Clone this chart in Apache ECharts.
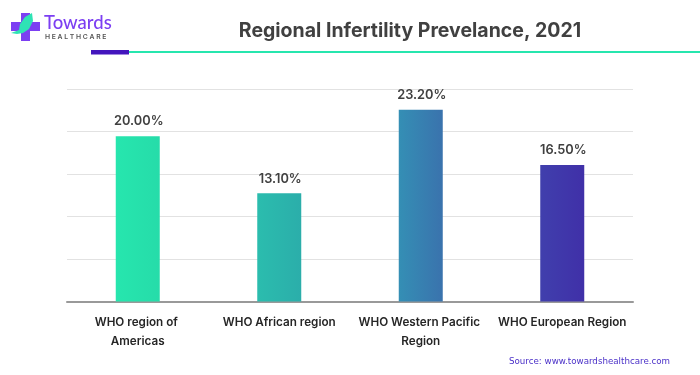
<!DOCTYPE html>
<html>
<head>
<meta charset="utf-8">
<style>
  html, body { margin: 0; background: #fff; }
  #chart { width: 700px; height: 375px; }
</style>
<script src="https://cdn.jsdelivr.net/npm/echarts@6/dist/echarts.min.js"></script>
</head>
<body>
<div id="chart"></div>
<script>
const categories = ["WHO region of Americas", "WHO African region", "WHO Western Pacific Region", "WHO European Region"];
const values = [20.0, 13.1, 23.2, 16.5];

const chart = echarts.init(document.getElementById("chart"), null, { renderer: "canvas" });

// one gradient running across all four bars
const barGradient = new echarts.graphic.LinearGradient(116, 0, 584, 0, [
  { offset: 0, color: "#26e6ae" },
  { offset: 0.1, color: "#26dba9" },
  { offset: 0.3, color: "#2bbdae" },
  { offset: 0.4, color: "#2badaa" },
  { offset: 0.6, color: "#3490b5" },
  { offset: 0.7, color: "#3a72ad" },
  { offset: 0.9, color: "#4040ad" },
  { offset: 1, color: "#4030a8" },
], true);

chart.setOption({
  animation: false,
  backgroundColor: "#fff",
  title: {
    text: "Regional Infertility Prevelance, 2021",
    left: 405,
    top: 16,
    textAlign: "center",
    textStyle: { fontFamily: "Inter", fontSize: 19.5, fontWeight: 700, color: "#404040" },
  },
  grid: { left: 67, right: 67, top: 89, height: 212.5 },
  xAxis: {
    type: "category",
    data: categories,
    axisTick: { show: false },
    axisLine: { lineStyle: { color: "#999", width: 2 } },
    axisLabel: {
      interval: 0,
      margin: 11,
      width: 134,
      overflow: "break",
      lineHeight: 19,
      fontFamily: "Inter",
      fontSize: 11.7,
      fontWeight: 600,
      color: "#262626",
    },
  },
  yAxis: {
    type: "value",
    min: 0,
    max: 25.7,
    interval: 5.14,
    axisLabel: { show: false },
    axisLine: { show: false },
    axisTick: { show: false },
    splitLine: { lineStyle: { color: "#e2e2e2", width: 1 } },
  },
  series: [
    {
      type: "bar",
      data: values,
      barWidth: 44,
      itemStyle: { color: barGradient },
      label: {
        show: true,
        position: "top",
        distance: 8,
        offset: [1, 0],
        formatter: (p) => p.value.toFixed(2) + "%",
        fontFamily: "Inter",
        fontSize: 12.8,
        fontWeight: 600,
        color: "#404040",
      },
    },
  ],
  graphic: [
    // header rule
    { type: "rect", shape: { x: 129, y: 51, width: 571, height: 2 }, style: { fill: "#26e6ae" } },
    { type: "rect", shape: { x: 91, y: 50, width: 38, height: 4.5 }, style: { fill: "#4315bd" } },
    // logo
    { type: "rect", shape: { x: 21, y: 13, width: 9, height: 28 }, style: { fill: "#7c3ff2" } },
    { type: "rect", shape: { x: 11, y: 22, width: 29, height: 9 }, style: { fill: "#7c3ff2" } },
    {
      type: "polygon",
      shape: {
        points: [[32, 13], [25, 17], [20, 24], [19, 30], [11, 33], [17, 34], [23, 33], [29, 29], [33, 21]],
      },
      style: { fill: "#2fe3b5" },
    },
    {
      type: "text",
      left: 44,
      top: 14,
      style: { text: "Towards", fontFamily: "Lato", fontSize: 18.5, fontWeight: 500, fill: "#7c3ff2" },
    },
    {
      type: "text",
      left: 45,
      top: 33,
      style: { text: "H E A L T H C A R E", fontFamily: "Inter", fontSize: 6.8, fontWeight: 600, fill: "#555" },
    },
    // source note
    {
      type: "text",
      left: 509,
      top: 357,
      style: { text: "Source: www.towardshealthcare.com", fontFamily: "DejaVu Sans", fontSize: 8.7, fill: "#4a30c8" },
    },
  ],
});
</script>
</body>
</html>
